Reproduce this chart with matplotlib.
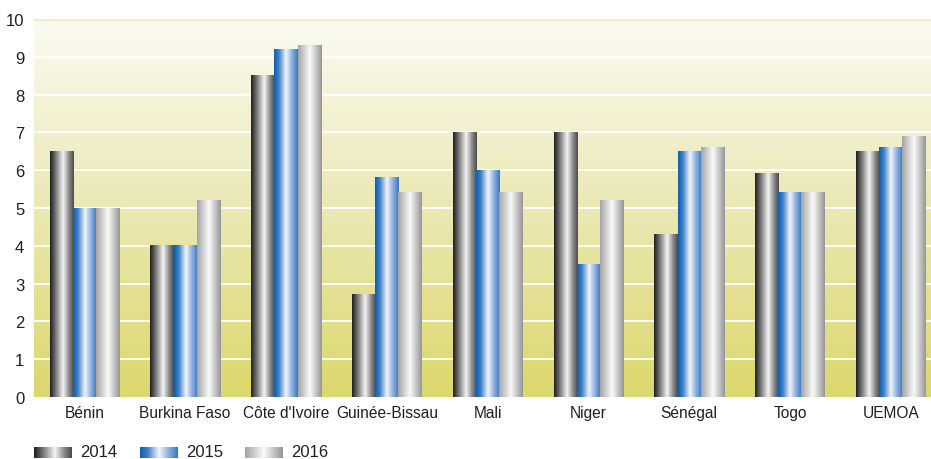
import numpy as np
import matplotlib
matplotlib.use("Agg")
import matplotlib.pyplot as plt
from matplotlib.colors import LinearSegmentedColormap

categories = ["Bénin", "Burkina Faso", "Côte d'Ivoire", "Guinée-Bissau", "Mali",
              "Niger", "Sénégal", "Togo", "UEMOA"]
series_names = ["2014", "2015", "2016"]
v2014 = [6.5, 4.0, 8.5, 2.7, 7.0, 7.0, 4.3, 5.9, 6.5]
v2015 = [5.0, 4.0, 9.2, 5.8, 6.0, 3.5, 6.5, 5.4, 6.6]
v2016 = [5.0, 5.2, 9.3, 5.4, 5.4, 5.2, 6.6, 5.4, 6.9]
yticks = [0, 1, 2, 3, 4, 5, 6, 7, 8, 9, 10]

plt.rcParams['font.family'] = ['Liberation Sans', 'DejaVu Sans']
FS = 11.2
TXT = "#231f20"

grad_cmaps = [
    LinearSegmentedColormap.from_list("g14", [(0, "#1e1c1c"), (0.25, "#7a7a7a"), (0.55, "#f4f4f4"), (0.8, "#8a8a8a"), (1, "#4a4a4a")]),
    LinearSegmentedColormap.from_list("g15", [(0, "#0a5fae"), (0.2, "#3f7fc6"), (0.5, "#f2f5fb"), (0.75, "#8fb0e0"), (1, "#3577c2")]),
    LinearSegmentedColormap.from_list("g16", [(0, "#a3a3a3"), (0.25, "#cfcfcf"), (0.5, "#fafafa"), (0.8, "#bdbdbd"), (1, "#959595")]),
]
grad = np.linspace(0, 1, 256).reshape(1, -1)

fig = plt.figure(figsize=(9.31, 4.6), dpi=100)
ax = fig.add_axes([34/931, 62/460, 1 - 34/931, 378/460])

# background gradient
bg = LinearSegmentedColormap.from_list("bg", [(0, "#dbd86c"), (0.5, "#ebe8b4"), (1, "#fbfbf3")])
ax.imshow(np.linspace(0, 1, 256).reshape(-1, 1), cmap=bg, origin="lower", aspect="auto",
          extent=[0, 1, 0, 1], transform=ax.transAxes, zorder=0)

x = np.arange(len(categories))
w = 0.23
for yv in yticks[1:-1]:
    ax.axhline(yv, color="white", lw=1.3, zorder=1)
ax.axhline(10, color="#efecc6", lw=2.5, zorder=1)

for i, vals in enumerate([v2014, v2015, v2016]):
    bars = ax.bar(x + (i - 1) * w, vals, width=w, color="none", edgecolor="none", zorder=2)
    for b in bars:
        x0, y0 = b.get_x(), b.get_y()
        ax.imshow(grad, cmap=grad_cmaps[i], aspect="auto",
                  extent=[x0, x0 + b.get_width(), y0, y0 + b.get_height()], zorder=3)

ax.set_xlim(-0.5, 8.4)
ax.set_ylim(0, 10)
ax.set_xticks(x)
ax.set_xticklabels(categories, fontsize=FS, color=TXT)
ax.set_yticks(yticks)
ax.set_yticklabels([str(t) for t in yticks], fontsize=FS + 0.8, color=TXT)
ax.tick_params(length=0, pad=7)
ax.tick_params(axis="x", pad=6)
for s in ax.spines.values():
    s.set_visible(False)

# legend
lx = [34, 140, 245]
for i, name in enumerate(series_names):
    iax = fig.add_axes([lx[i] / 931, 1 - 459 / 460, 38 / 931, 11 / 460])
    iax.imshow(grad, cmap=grad_cmaps[i], aspect="auto")
    iax.axis("off")
    fig.text((lx[i] + 46) / 931, 1 - 453 / 460, name, fontsize=FS + 0.8, va="center", ha="left", color=TXT)

fig.savefig("out.png", dpi=100)
